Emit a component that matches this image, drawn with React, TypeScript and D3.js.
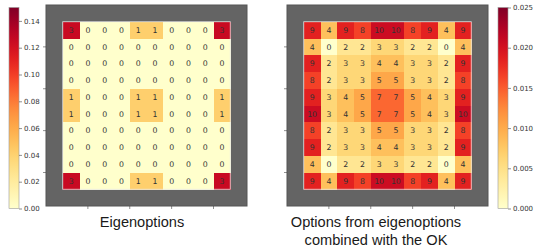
import { useEffect, useRef } from "react";
import * as d3 from "d3";

// visit counts shown in each cell (10x10 room inside a wall border)
const eigenCounts = [
  [3, 0, 0, 0, 1, 1, 0, 0, 0, 3],
  [0, 0, 0, 0, 0, 0, 0, 0, 0, 0],
  [0, 0, 0, 0, 0, 0, 0, 0, 0, 0],
  [0, 0, 0, 0, 0, 0, 0, 0, 0, 0],
  [1, 0, 0, 0, 1, 1, 0, 0, 0, 1],
  [1, 0, 0, 0, 1, 1, 0, 0, 0, 1],
  [0, 0, 0, 0, 0, 0, 0, 0, 0, 0],
  [0, 0, 0, 0, 0, 0, 0, 0, 0, 0],
  [0, 0, 0, 0, 0, 0, 0, 0, 0, 0],
  [3, 0, 0, 0, 1, 1, 0, 0, 0, 3],
];

const okCounts = [
  [9, 4, 9, 8, 10, 10, 8, 9, 4, 9],
  [4, 0, 2, 2, 3, 3, 2, 2, 0, 4],
  [9, 2, 3, 3, 4, 4, 3, 3, 2, 9],
  [8, 2, 3, 3, 5, 5, 3, 3, 2, 8],
  [9, 3, 4, 5, 7, 7, 5, 4, 3, 9],
  [10, 3, 4, 5, 7, 7, 5, 4, 3, 10],
  [8, 2, 3, 3, 5, 5, 3, 3, 2, 8],
  [9, 2, 3, 3, 4, 4, 3, 3, 2, 9],
  [4, 0, 2, 2, 3, 3, 2, 2, 0, 4],
  [9, 4, 9, 8, 10, 10, 8, 9, 4, 9],
];

const eigenMax = 0.15;
const okMax = 0.025;
const eigenTicks = [0, 0.02, 0.04, 0.06, 0.08, 0.1, 0.12, 0.14];
const okTicks = [0, 0.005, 0.01, 0.015, 0.02, 0.025];
const frameTicks = [2.5, 5, 7.5, 10];

const leftTitle = ["Eigenoptions"];
const rightTitle = ["Options from eigenoptions", "combined with the OK"];

const W = 540;
const H = 252;

export default function App() {
  const svgRef = useRef<SVGSVGElement>(null);

  useEffect(() => {
    if (!svgRef.current) return;
    const svg = d3.select(svgRef.current);
    svg.selectAll("*").remove();

    const defs = svg.append("defs");

    const drawPanel = (counts: number[][], vmax: number, fx: number, fy: number, size: number) => {
      const total = d3.sum(counts.flat());
      const x = d3.scaleLinear().domain([0, 12]).range([fx, fx + size]);
      const y = d3.scaleLinear().domain([0, 12]).range([fy, fy + size]);
      const color = (v: number) => d3.interpolateYlOrRd(Math.min(1, v / vmax));
      const g = svg.append("g");

      // wall frame
      g.append("rect")
        .attr("x", x(0))
        .attr("y", y(0))
        .attr("width", size)
        .attr("height", size)
        .attr("fill", "#646464")
        .attr("stroke", "#545454")
        .attr("stroke-width", 1);

      const cells = counts.flatMap((row, r) => row.map((c, col) => ({ r, col, c })));
      const cw = x(1) - x(0);

      g.selectAll("rect.cell")
        .data(cells)
        .join("rect")
        .attr("class", "cell")
        .attr("x", (d) => x(d.col + 1))
        .attr("y", (d) => y(d.r + 1))
        .attr("width", cw + 0.6)
        .attr("height", cw + 0.6)
        .attr("shape-rendering", "crispEdges")
        .attr("fill", (d) => color(d.c / total));

      g.append("rect")
        .attr("x", x(1))
        .attr("y", y(1))
        .attr("width", x(11) - x(1))
        .attr("height", y(11) - y(1))
        .attr("fill", "none")
        .attr("stroke", "#e6e6e6")
        .attr("stroke-width", 0.8);

      g.selectAll("text.cell")
        .data(cells)
        .join("text")
        .attr("class", "cell")
        .attr("x", (d) => x(d.col + 1.5))
        .attr("y", (d) => y(d.r + 1.5))
        .attr("dy", "0.36em")
        .attr("text-anchor", "middle")
        .attr("font-family", "DejaVu Sans")
        .attr("font-size", 7.8)
        .attr("fill", "#333")
        .text((d) => d.c);

      // small axis ticks (left & bottom)
      g.selectAll("line.ty")
        .data(frameTicks)
        .join("line")
        .attr("x1", x(0) - 3)
        .attr("x2", x(0))
        .attr("y1", (d) => y(d))
        .attr("y2", (d) => y(d))
        .attr("stroke", "#444")
        .attr("stroke-width", 0.6);
      g.selectAll("line.tx")
        .data(frameTicks)
        .join("line")
        .attr("y1", y(12))
        .attr("y2", y(12) + 3)
        .attr("x1", (d) => x(d))
        .attr("x2", (d) => x(d))
        .attr("stroke", "#444")
        .attr("stroke-width", 0.6);
    };

    const drawColorbar = (id: string, vmax: number, ticks: number[], bx: number, fmt: string) => {
      const top = 7.5;
      const bottom = 208.5;
      const cy = d3.scaleLinear().domain([0, vmax]).range([bottom, top]);
      const grad = defs
        .append("linearGradient")
        .attr("id", id)
        .attr("x1", 0)
        .attr("x2", 0)
        .attr("y1", 1)
        .attr("y2", 0);
      d3.range(0, 1.0001, 0.05).forEach((t) => {
        grad.append("stop").attr("offset", t).attr("stop-color", d3.interpolateYlOrRd(t));
      });
      svg.append("rect")
        .attr("x", bx)
        .attr("y", top)
        .attr("width", 10)
        .attr("height", bottom - top)
        .attr("fill", `url(#${id})`)
        .attr("stroke", "#999")
        .attr("stroke-width", 0.6);
      const ax = svg.append("g").attr("transform", `translate(${bx + 10},0)`);
      ax.call(d3.axisRight(cy).tickValues(ticks).tickSize(3).tickPadding(2).tickFormat(d3.format(fmt)));
      ax.select(".domain").remove();
      ax.selectAll("line").attr("stroke", "#444").attr("stroke-width", 0.6);
      ax.selectAll("text")
        .attr("font-family", "DejaVu Sans")
        .attr("font-size", 7)
        .attr("fill", "#333");
    };

    drawColorbar("cbLeft", eigenMax, eigenTicks, 9, ".2f");
    drawColorbar("cbRight", okMax, okTicks, 498, ".3f");
    drawPanel(eigenCounts, eigenMax, 46, 5, 201);
    drawPanel(okCounts, okMax, 287, 5, 201);

    const drawTitle = (lines: string[], cx: number) => {
      svg.append("g")
        .selectAll("text")
        .data(lines)
        .join("text")
        .attr("x", cx)
        .attr("y", (_, i) => 227 + i * 18)
        .attr("text-anchor", "middle")
        .attr("font-family", "Liberation Sans, Arial, sans-serif")
        .attr("font-size", 14.6)
        .attr("fill", "#1a1a1a")
        .text((d) => d);
    };
    drawTitle(leftTitle, 142);
    drawTitle(rightTitle, 376);
  }, []);

  return (
    <div style={{ position: "absolute", left: 0, top: 0, width: W, height: H, background: "#fff" }}>
      <svg ref={svgRef} width={W} height={H}></svg>
    </div>
  );
}
